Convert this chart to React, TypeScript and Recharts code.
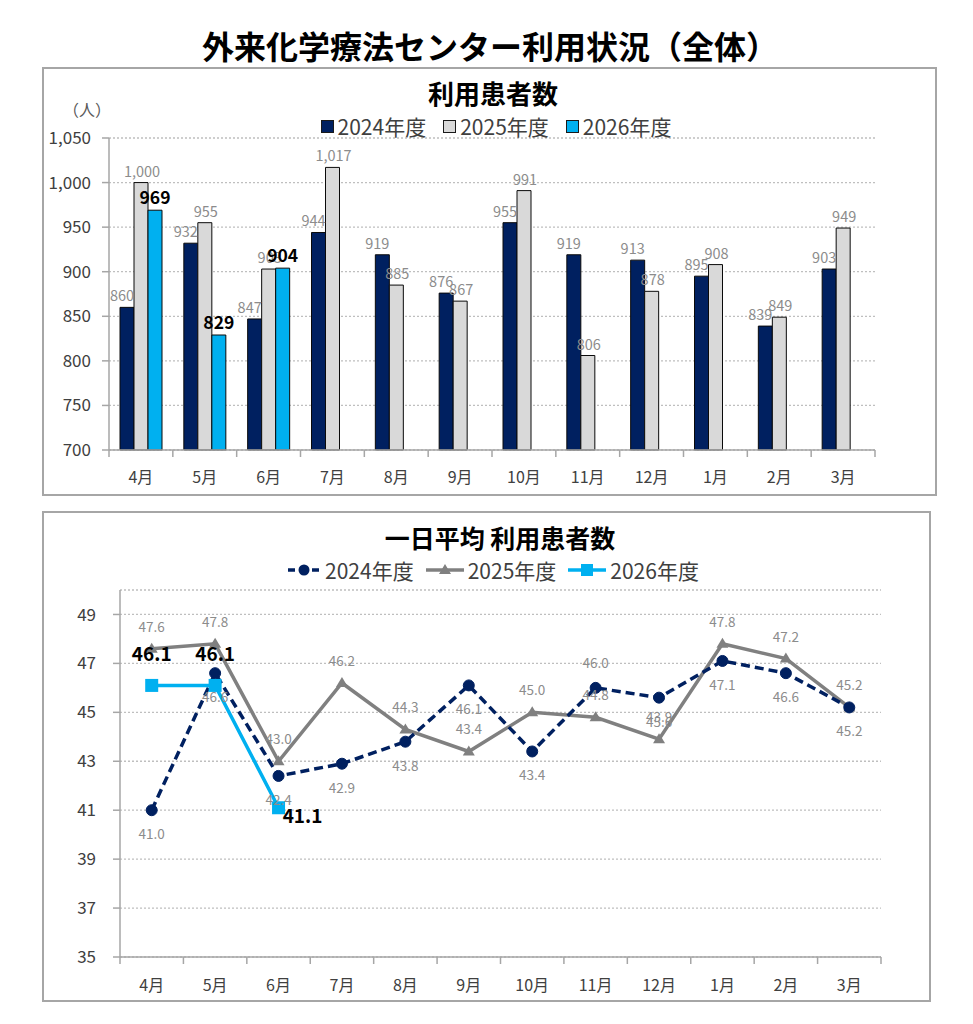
import React from 'react'
import {
  BarChart, Bar, LineChart, Line, XAxis, YAxis, CartesianGrid, Legend, LabelList,
} from 'recharts'

const months = ['4月', '5月', '6月', '7月', '8月', '9月', '10月', '11月', '12月', '1月', '2月', '3月']
const seriesNames = ['2024年度', '2025年度', '2026年度']

// 利用患者数
const patients2024 = [860, 932, 847, 944, 919, 876, 955, 919, 913, 895, 839, 903]
const patients2025 = [1000, 955, 903, 1017, 885, 867, 991, 806, 878, 908, 849, 949]
const patients2026 = [969, 829, 904]
const patientTicks = [700, 750, 800, 850, 900, 950, 1000, 1050]

// 一日平均 利用患者数
const daily2024 = [41.0, 46.6, 42.4, 42.9, 43.8, 46.1, 43.4, 46.0, 45.6, 47.1, 46.6, 45.2]
const daily2025 = [47.6, 47.8, 43.0, 46.2, 44.3, 43.4, 45.0, 44.8, 43.9, 47.8, 47.2, 45.2]
const daily2026 = [46.1, 46.1, 41.1]
const dailyTicks = [35, 37, 39, 41, 43, 45, 47, 49]

const NAVY = '#002060'
const LIGHT = '#d9d9d9'
const CYAN = '#00b0f0'
const GRAY = '#808080'
const FRAME = '#a6a6a6'
const LABEL_GRAY = '#8c8c8c'
const TEXT = '#404040'
const FONT = '"Noto Sans CJK JP", "Noto Sans", sans-serif'

const barData = months.map((m, i) => ({
  month: m,
  y2024: patients2024[i],
  y2025: patients2025[i],
  y2026: patients2026[i],
}))

const lineData = months.map((m, i) => ({
  month: m,
  y2024: daily2024[i],
  y2025: daily2025[i],
  y2026: daily2026[i],
}))

const fmtCount = (v: any) => (v == null ? '' : Number(v).toLocaleString('en-US'))

// month tick with tick marks between categories
const makeMonthTick = (band: number, dy: number, fontSize: number) => (props: any) => {
  const { x, y, payload, index } = props
  const half = band / 2
  return (
    <g>
      <line x1={x - half} x2={x - half} y1={y} y2={y + 7} stroke={FRAME} strokeWidth={1.5} />
      {index === months.length - 1 && (
        <line x1={x + half} x2={x + half} y1={y} y2={y + 7} stroke={FRAME} strokeWidth={1.5} />
      )}
      <text x={x} y={y + dy} textAnchor="middle" fontSize={fontSize} fill={TEXT} fontFamily={FONT}>
        {payload.value}
      </text>
    </g>
  )
}

// bar value label, nudged sideways like the original
const makeBarLabel = (dx: number, size: number, color: string, bold: boolean) => (p: any) => {
  if (p.value == null) return <g key={`bl-${p.index}`} />
  return (
    <text key={`bl-${p.index}`} x={p.x + p.width / 2 + dx} y={p.y - 6} textAnchor="middle"
      fontSize={size} fill={color} fontWeight={bold ? 'bold' : 'normal'} fontFamily={FONT}>
      {fmtCount(p.value)}
    </text>
  )
}

const barLegend = () => {
  const fills = [NAVY, LIGHT, CYAN]
  return (
    <div style={{ display: 'flex', justifyContent: 'center', paddingLeft: 14, fontFamily: FONT, fontSize: 21, color: TEXT, lineHeight: '24px' }}>
      {seriesNames.map((n, i) => (
        <div key={n} style={{ display: 'flex', alignItems: 'center', marginRight: i < 2 ? 17 : 0 }}>
          <span style={{ width: 11, height: 11, background: fills[i], border: '1px solid #1a1a1a', marginRight: 4 }} />
          <span>{n}</span>
        </div>
      ))}
    </div>
  )
}

const lineIcon = (i: number) => {
  if (i === 0) {
    return (
      <svg width={34} height={14}>
        <line x1={1} x2={33} y1={7} y2={7} stroke={NAVY} strokeWidth={3.5} strokeDasharray="7 5" />
        <circle cx={17} cy={7} r={5.5} fill={NAVY} />
      </svg>
    )
  }
  if (i === 1) {
    return (
      <svg width={38} height={14}>
        <line x1={0} x2={38} y1={7} y2={7} stroke={GRAY} strokeWidth={3.5} />
        <polygon points="19,1 25,11 13,11" fill={GRAY} />
      </svg>
    )
  }
  return (
    <svg width={38} height={14}>
      <line x1={0} x2={38} y1={7} y2={7} stroke={CYAN} strokeWidth={3.5} />
      <rect x={13} y={1} width={12} height={12} fill={CYAN} />
    </svg>
  )
}

const lineLegend = () => (
  <div style={{ display: 'flex', justifyContent: 'center', paddingLeft: 14, fontFamily: FONT, fontSize: 21, color: TEXT, lineHeight: '24px' }}>
    {seriesNames.map((n, i) => (
      <div key={n} style={{ display: 'flex', alignItems: 'center', marginRight: i < 2 ? 12 : 0 }}>
        <span style={{ marginRight: 4, display: 'flex' }}>{lineIcon(i)}</span>
        <span>{n}</span>
      </div>
    ))}
  </div>
)

const dot2024 = (p: any) => (
  <circle key={`d24-${p.index}`} cx={p.cx} cy={p.cy} r={5.5} fill={NAVY} stroke={NAVY} />
)
const dot2025 = (p: any) => (
  <polygon
    key={`d25-${p.index}`}
    points={`${p.cx},${p.cy - 6} ${p.cx + 6},${p.cy + 4} ${p.cx - 6},${p.cy + 4}`}
    fill={GRAY}
  />
)
const dot2026 = (p: any) =>
  p.cy == null ? <g key={`d26-${p.index}`} /> : (
    <rect key={`d26-${p.index}`} x={p.cx - 6.5} y={p.cy - 6.5} width={13} height={13} fill={CYAN} />
  )

const label2024 = (p: any) => {
  const above = p.index === 7
  return (
    <text key={`l24-${p.index}`} x={p.x} y={above ? p.y - 20 : p.y + 29} textAnchor="middle"
      fontSize={13.5} fill={LABEL_GRAY} fontFamily={FONT}>
      {Number(p.value).toFixed(1)}
    </text>
  )
}
const label2025 = (p: any) => (
  <text key={`l25-${p.index}`} x={p.x} y={p.y - 17} textAnchor="middle"
    fontSize={13.5} fill={LABEL_GRAY} fontFamily={FONT}>
    {Number(p.value).toFixed(1)}
  </text>
)
const label2026 = (p: any) => {
  if (p.value == null) return <g key={`l26-${p.index}`} />
  const right = p.index === 2
  return (
    <text key={`l26-${p.index}`} x={right ? p.x + 24 : p.x} y={right ? p.y + 15 : p.y - 24}
      textAnchor="middle" fontSize={19} fontWeight="bold" fill="#000" fontFamily={FONT}>
      {Number(p.value).toFixed(1)}
    </text>
  )
}

const box = (left: number, top: number, width: number, height: number): React.CSSProperties => ({
  position: 'absolute', left, top, width, height, border: `2px solid ${FRAME}`, boxSizing: 'border-box',
})

const heading = (top: number, center: number, size: number, text: string) => (
  <div style={{
    position: 'absolute', top, left: center - 400, width: 800, textAlign: 'center',
    fontFamily: FONT, fontWeight: 'bold', fontSize: size, lineHeight: `${size + 6}px`, color: '#000',
  }}>{text}</div>
)

export default function App() {
  return (
    <div style={{ position: 'relative', width: 973, height: 1024, margin: -8, background: '#fff', fontFamily: FONT }}>
      {heading(26, 490, 32, '外来化学療法センター利用状況（全体）')}

      {/* 利用患者数 */}
      <div style={box(42, 67, 895, 429)} />
      {heading(77, 493, 26, '利用患者数')}
      <div style={{ position: 'absolute', left: 63, top: 97, fontSize: 16, color: '#595959', fontFamily: FONT }}>（人）</div>
      <div style={{ position: 'absolute', left: 42, top: 67 }}>
        <BarChart width={894} height={428} data={barData} barGap={0} barSize={14}
          margin={{ top: 71, right: 61, bottom: 15, left: 7 }}>
          <CartesianGrid vertical={false} stroke="#bfbfbf" strokeDasharray="2 2" strokeWidth={1.3} />
          <XAxis dataKey="month" axisLine={{ stroke: FRAME, strokeWidth: 1.5 }} tickLine={false}
            tickSize={0} tickMargin={0} height={30} interval={0}
            tick={makeMonthTick(766 / 12, 33, 16)} />
          <XAxis xAxisId="top" dataKey="month" orientation="top" height={0} tick={false} tickLine={false}
            axisLine={{ stroke: FRAME, strokeWidth: 1.5 }} />
          <YAxis domain={[700, 1050]} ticks={patientTicks} width={60} interval={0}
            tickFormatter={fmtCount} tickSize={7} tickMargin={11}
            axisLine={{ stroke: FRAME, strokeWidth: 1.5 }} tickLine={{ stroke: FRAME, strokeWidth: 1.5 }}
            tick={{ fontSize: 17, fill: TEXT, fontFamily: FONT }} />
          <YAxis yAxisId="right" orientation="right" domain={[700, 1050]} width={0} tick={false} tickLine={false}
            axisLine={{ stroke: FRAME, strokeWidth: 1.5 }} />
          <Legend layout="horizontal" verticalAlign="middle" align="center" content={barLegend}
            wrapperStyle={{ top: 47, left: 0, width: 894 }} />
          <Bar dataKey="y2024" name={seriesNames[0]} fill={NAVY} stroke="#0a0a0a" strokeWidth={1} isAnimationActive={false}>
            <LabelList dataKey="y2024" content={makeBarLabel(-5, 14.5, LABEL_GRAY, false)} />
          </Bar>
          <Bar dataKey="y2025" name={seriesNames[1]} fill={LIGHT} stroke="#0a0a0a" strokeWidth={1} isAnimationActive={false}>
            <LabelList dataKey="y2025" content={makeBarLabel(1, 14.5, LABEL_GRAY, false)} />
          </Bar>
          <Bar dataKey="y2026" name={seriesNames[2]} fill={CYAN} stroke="#0a0a0a" strokeWidth={1} isAnimationActive={false}>
            <LabelList dataKey="y2026" content={makeBarLabel(0, 17.5, '#000', true)} />
          </Bar>
        </BarChart>
      </div>

      {/* 一日平均 利用患者数 */}
      <div style={box(42, 511, 889, 491)} />
      {heading(522, 500, 25, '一日平均 利用患者数')}
      <div style={{ position: 'absolute', left: 42, top: 512 }}>
        <LineChart width={888} height={490} data={lineData}
          margin={{ top: 78, right: 49, bottom: 15, left: 28 }}>
          <CartesianGrid vertical={false} stroke="#bfbfbf" strokeDasharray="2 2" strokeWidth={1.3} />
          <XAxis dataKey="month" scale="band" axisLine={{ stroke: FRAME, strokeWidth: 1.5 }} tickLine={false}
            tickSize={0} tickMargin={0} height={30} interval={0}
            tick={makeMonthTick(761 / 12, 34, 16)} />
          <XAxis xAxisId="top" dataKey="month" scale="band" orientation="top" height={0} tick={false} tickLine={false}
            axisLine={{ stroke: FRAME, strokeWidth: 1.5 }} />
          <YAxis domain={[35, 50]} ticks={dailyTicks} width={50} interval={0}
            tickSize={7} tickMargin={17}
            axisLine={{ stroke: FRAME, strokeWidth: 1.5 }} tickLine={{ stroke: FRAME, strokeWidth: 1.5 }}
            tick={{ fontSize: 17, fill: TEXT, fontFamily: FONT }} />
          <YAxis yAxisId="right" orientation="right" domain={[35, 50]} width={0} tick={false} tickLine={false}
            axisLine={{ stroke: FRAME, strokeWidth: 1.5 }} />
          <Legend layout="horizontal" verticalAlign="middle" align="center" content={lineLegend}
            wrapperStyle={{ top: 46, left: 0, width: 888 }} />
          <Line dataKey="y2025" name={seriesNames[1]} stroke={GRAY} strokeWidth={3.5}
            dot={dot2025} activeDot={false} label={label2025} isAnimationActive={false} />
          <Line dataKey="y2024" name={seriesNames[0]} stroke={NAVY} strokeWidth={3.5} strokeDasharray="9 5"
            dot={dot2024} activeDot={false} label={label2024} isAnimationActive={false} />
          <Line dataKey="y2026" name={seriesNames[2]} stroke={CYAN} strokeWidth={3.5}
            dot={dot2026} activeDot={false} label={label2026} isAnimationActive={false} />
        </LineChart>
      </div>
    </div>
  )
}
